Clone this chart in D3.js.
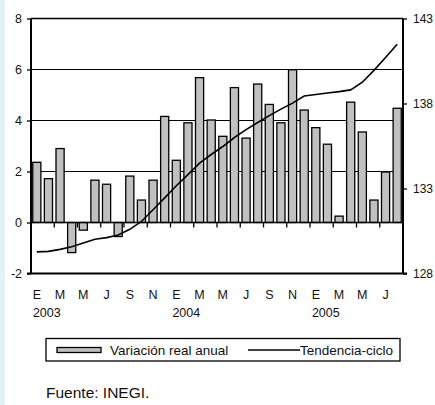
<!DOCTYPE html>
<html>
<head>
<meta charset="utf-8">
<script src="https://cdn.jsdelivr.net/npm/d3@7"></script>
<style>
  html, body { margin: 0; padding: 0; background: #ffffff; }
  svg { display: block; font-family: "Liberation Sans", Arial, sans-serif; }
</style>
</head>
<body>
<svg id="chart" width="435" height="405"></svg>
<script>
// Monthly periods, January 2003 – August 2005
const monthLetters = ["E","F","M","A","M","J","J","A","S","O","N","D"];
const years = ["2003", "2004", "2005"];

// Annual real variation (%), left axis
const variacion = [
  2.36, 1.72, 2.90, -1.18, -0.30, 1.66, 1.50, -0.55, 1.82, 0.88, 1.66, 4.16,
  2.44, 3.91, 5.68, 4.02, 3.38, 5.29, 3.31, 5.43, 4.63, 3.91, 5.99, 4.41,
  3.72, 3.07, 0.25, 4.72, 3.55, 0.88, 1.98, 4.48
];

// Trend-cycle index, right axis
const tendencia = [
  129.27, 129.30, 129.42, 129.57, 129.80, 130.02, 130.11, 130.26, 130.60, 131.06, 131.75, 132.45,
  133.16, 133.82, 134.49, 135.00, 135.47, 136.00, 136.46, 136.88, 137.29, 137.67, 138.02, 138.44,
  138.53, 138.62, 138.70, 138.80, 139.25, 139.95, 140.71, 141.48
];

const leftTicks = [-2, 0, 2, 4, 6, 8];
const rightTicks = [128, 133, 138, 143];

const svg = d3.select("#chart");
const plot = { left: 31, right: 403, top: 18.5, bottom: 273.5 };
const textColor = "#111";

// faint strip on the left page edge
svg.append("rect").attr("x", 0).attr("y", 0).attr("width", 5).attr("height", 405)
  .attr("fill", "#e4f2f6");

const idx = d3.range(variacion.length);
const x = d3.scaleBand().domain(idx).range([plot.left, plot.right])
  .paddingInner(0.3).paddingOuter(0.15);
const step = x.step();
const yL = d3.scaleLinear().domain([-2, 8]).range([plot.bottom, plot.top]);
const yR = d3.scaleLinear().domain([128, 143]).range([plot.bottom, plot.top]);

// horizontal gridlines
svg.append("g").selectAll("line").data([2, 4, 6, 8]).join("line")
  .attr("x1", plot.left).attr("x2", plot.right)
  .attr("y1", d => yL(d)).attr("y2", d => yL(d))
  .attr("stroke", "#000").attr("stroke-width", d => d === 8 ? 1.5 : 1);

// bars
svg.append("g").selectAll("rect").data(idx).join("rect")
  .attr("x", i => x(i))
  .attr("width", x.bandwidth())
  .attr("y", i => Math.min(yL(variacion[i]), yL(0)))
  .attr("height", i => Math.abs(yL(variacion[i]) - yL(0)))
  .attr("fill", "#c0c0c0").attr("stroke", "#000").attr("stroke-width", 1.3);

// zero line with category ticks
svg.append("line").attr("x1", plot.left).attr("x2", plot.right)
  .attr("y1", yL(0)).attr("y2", yL(0)).attr("stroke", "#000").attr("stroke-width", 1.5);
const tickIdx = idx.filter(i => i > 0 && i % 2 === 0);
svg.append("g").selectAll("line").data(tickIdx).join("line")
  .attr("x1", i => plot.left + step * i).attr("x2", i => plot.left + step * i)
  .attr("y1", yL(0)).attr("y2", yL(0) + 5)
  .attr("stroke", "#000").attr("stroke-width", 1.3);

// trend-cycle line
const line = d3.line().x((d, i) => x(i) + x.bandwidth() / 2).y(d => yR(d));
svg.append("path").datum(tendencia).attr("d", line)
  .attr("fill", "none").attr("stroke", "#000").attr("stroke-width", 1.6);

// left axis (plain hyphen for negatives)
const axL = svg.append("g").attr("transform", `translate(${plot.left},0)`)
  .call(d3.axisLeft(yL).tickValues(leftTicks).tickFormat(d => String(d))
    .tickSize(4).tickPadding(5));
axL.select(".domain").attr("stroke-width", 2).attr("d", `M0,${plot.top}V${plot.bottom}`);
axL.selectAll(".tick line").attr("stroke-width", 1.3);
axL.selectAll("text").attr("font-size", 12.5).attr("fill", textColor)
  .attr("font-family", "'Liberation Sans', Arial, sans-serif");

// right axis
const axR = svg.append("g").attr("transform", `translate(${plot.right},0)`)
  .call(d3.axisRight(yR).tickValues(rightTicks).tickFormat(d => String(d))
    .tickSize(4).tickPadding(6));
axR.select(".domain").attr("stroke-width", 2).attr("d", `M0,${plot.top}V${plot.bottom}`);
axR.selectAll(".tick line").attr("stroke-width", 1.3);
axR.selectAll("text").attr("font-size", 12).attr("fill", textColor)
  .attr("font-family", "'Liberation Sans', Arial, sans-serif");

// bottom line at -2
svg.append("line").attr("x1", plot.left - 4).attr("x2", plot.right + 4)
  .attr("y1", plot.bottom).attr("y2", plot.bottom)
  .attr("stroke", "#000").attr("stroke-width", 2);

// month labels every two months
svg.append("g").selectAll("text").data(idx.filter(i => i % 2 === 0)).join("text")
  .attr("x", i => x(i) + x.bandwidth() / 2)
  .attr("y", 298.5)
  .attr("text-anchor", "middle").attr("font-size", 12.5).attr("fill", textColor)
  .text(i => monthLetters[i % 12]);

// year labels under each January
svg.append("g").selectAll("text").data(years).join("text")
  .attr("x", (d, k) => x(k * 12) + x.bandwidth() / 2 + 10)
  .attr("y", 316.5)
  .attr("text-anchor", "middle").attr("font-size", 12.5).attr("fill", textColor)
  .text(d => d);

// legend
const lg = svg.append("g");
lg.append("rect").attr("x", 46).attr("y", 338.5).attr("width", 354).attr("height", 22.5)
  .attr("fill", "#fff").attr("stroke", "#000").attr("stroke-width", 1.3);
lg.append("rect").attr("x", 57).attr("y", 347.5).attr("width", 44).attr("height", 5)
  .attr("fill", "#c0c0c0").attr("stroke", "#000").attr("stroke-width", 1.3);
lg.append("text").attr("x", 110).attr("y", 355).attr("font-size", 13.5).attr("fill", textColor)
  .text("Variación real anual");
lg.append("line").attr("x1", 248).attr("x2", 300).attr("y1", 350).attr("y2", 350)
  .attr("stroke", "#000").attr("stroke-width", 1.6);
lg.append("text").attr("x", 300).attr("y", 355).attr("font-size", 13.5).attr("fill", textColor)
  .text("Tendencia-ciclo");

// source note
svg.append("text").attr("x", 46).attr("y", 398).attr("font-size", 15.5).attr("fill", textColor)
  .text("Fuente: INEGI.");
</script>
</body>
</html>
